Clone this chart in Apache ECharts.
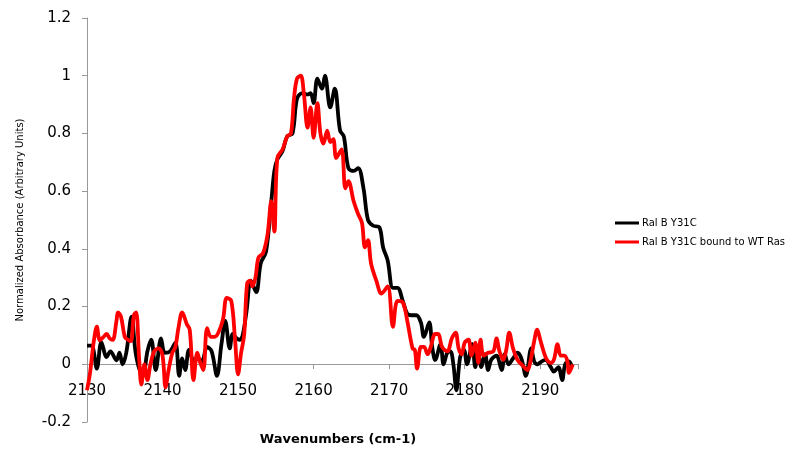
<!DOCTYPE html>
<html>
<head>
<meta charset="utf-8">
<script src="https://cdn.jsdelivr.net/npm/echarts@6/dist/echarts.min.js"></script>
<style>
html,body{margin:0;padding:0;background:#fff;}
#chart{width:800px;height:459px;}
</style>
</head>
<body>
<div id="chart"></div>
<script>
var seriesNames = ['Ral B Y31C', 'Ral B Y31C bound to WT Ras'];
var xTitle = 'Wavenumbers (cm-1)';
var yTitle = 'Normalized Absorbance (Arbitrary Units)';

var blackWn = [2130.0,2130.6,2131.3,2131.9,2132.6,2133.1,2133.9,2134.3,2134.7,2135.2,2135.9,2136.5,2137.4,2138.0,2138.5,2139.1,2139.8,2140.3,2141.0,2141.7,2142.2,2142.6,2143.0,2143.5,2144.1,2144.7,2145.2,2145.9,2146.5,2147.2,2147.8,2148.3,2148.9,2149.3,2149.8,2150.2,2150.6,2151.1,2151.7,2152.4,2153.0,2153.7,2154.4,2154.8,2155.2,2155.9,2156.5,2157.2,2157.8,2158.5,2159.2,2159.6,2160.0,2160.5,2161.1,2161.5,2162.2,2162.8,2163.5,2164.0,2164.6,2165.3,2165.9,2166.6,2167.2,2167.9,2168.7,2169.2,2169.8,2170.5,2171.1,2171.8,2172.4,2172.9,2173.6,2174.2,2174.6,2175.3,2175.7,2176.1,2176.8,2177.2,2177.7,2178.1,2178.5,2178.9,2179.4,2179.9,2180.3,2181.0,2181.4,2181.8,2182.2,2182.7,2183.1,2183.5,2184.2,2184.9,2185.3,2185.8,2186.4,2187.0,2187.5,2188.1,2188.8,2189.2,2189.6,2190.2,2190.7,2191.4,2191.8,2192.4,2192.9,2193.3,2193.8,2194.2];
var blackAbs = [0.065,0.065,-0.015,0.077,0.025,0.045,0.014,0.04,0.0,0.04,0.165,0.03,-0.04,0.045,0.085,-0.02,0.09,0.04,0.045,0.075,-0.04,0.02,-0.02,0.05,0.015,0.02,0.01,0.06,0.045,-0.04,0.07,0.15,0.055,0.105,0.09,0.085,0.10,0.18,0.29,0.25,0.35,0.39,0.565,0.67,0.71,0.74,0.79,0.80,0.92,0.94,0.935,0.94,0.905,0.99,0.955,1.0,0.89,0.955,0.81,0.79,0.68,0.67,0.68,0.61,0.50,0.48,0.475,0.405,0.36,0.265,0.265,0.22,0.175,0.17,0.17,0.145,0.095,0.145,0.06,0.015,0.07,0.0,0.04,0.045,0.0,-0.09,0.025,0.05,0.0,0.07,-0.01,0.04,-0.01,0.035,-0.02,0.015,0.03,-0.02,0.035,0.0,0.02,0.04,0.02,-0.04,0.055,0.01,0.0,0.01,0.015,-0.01,-0.025,-0.01,-0.055,0.0,0.01,-0.01];

var redWn = [2130.0,2130.4,2130.9,2131.3,2131.7,2132.2,2132.6,2133.0,2133.4,2133.9,2134.1,2134.5,2135.0,2135.4,2135.8,2136.2,2136.5,2136.9,2137.2,2137.6,2138.0,2138.4,2138.9,2139.5,2140.0,2140.4,2140.8,2141.3,2141.7,2142.1,2142.6,2143.2,2143.6,2144.1,2144.6,2145.0,2145.4,2145.9,2146.4,2146.9,2147.4,2148.0,2148.5,2149.1,2149.6,2150.0,2150.4,2150.8,2151.2,2151.6,2151.9,2152.3,2152.7,2153.3,2153.9,2154.4,2154.8,2155.2,2155.9,2156.5,2157.0,2157.4,2157.8,2158.3,2158.7,2159.2,2159.6,2160.0,2160.5,2160.9,2161.3,2161.8,2162.2,2162.6,2163.0,2163.7,2164.2,2164.6,2165.3,2165.9,2166.4,2166.8,2167.2,2167.6,2168.3,2169.0,2169.8,2170.5,2171.1,2171.8,2172.4,2173.1,2173.4,2173.7,2174.2,2174.6,2175.1,2175.5,2176.1,2176.5,2177.0,2177.7,2178.3,2178.8,2179.2,2179.6,2180.0,2180.5,2180.9,2181.4,2181.8,2182.1,2182.5,2183.1,2183.8,2184.2,2184.6,2185.1,2185.5,2185.9,2186.4,2187.0,2187.7,2188.3,2188.7,2189.2,2189.6,2190.0,2190.5,2190.9,2191.4,2191.8,2192.3,2192.7,2193.2,2193.6,2193.8,2194.3];
var redAbs = [-0.09,-0.03,0.08,0.13,0.083,0.095,0.105,0.09,0.085,0.15,0.18,0.165,0.095,0.085,0.08,0.17,0.18,0.02,-0.07,0.0,-0.055,0.0,0.045,0.055,0.03,-0.08,-0.02,0.04,0.06,0.125,0.18,0.14,0.12,-0.055,0.04,0.005,-0.02,0.125,0.095,0.095,0.11,0.155,0.23,0.22,0.085,-0.035,0.04,0.10,0.28,0.29,0.27,0.30,0.37,0.385,0.45,0.565,0.46,0.715,0.745,0.79,0.80,0.92,0.99,1.0,0.94,0.82,0.89,0.785,0.905,0.80,0.765,0.81,0.77,0.78,0.715,0.745,0.61,0.635,0.565,0.52,0.49,0.405,0.43,0.35,0.29,0.245,0.27,0.13,0.22,0.215,0.15,0.055,0.05,-0.015,0.06,0.06,0.035,0.06,0.105,0.105,0.06,0.045,0.09,0.11,0.055,0.035,0.075,0.085,0.03,0.075,0.005,0.085,0.03,0.04,0.045,0.09,0.045,0.015,0.05,0.11,0.055,0.015,-0.005,-0.02,0.01,0.08,0.12,0.085,0.04,0.015,0.005,0.015,0.07,0.03,0.03,0.01,-0.03,0.0];

function pairs(xs, ys){ return xs.map(function(x,i){ return [x, ys[i]]; }); }

var chart = echarts.init(document.getElementById('chart'), null, {renderer:'canvas'});
var font = 'DejaVu Sans';
chart.setOption({
  animation: false,
  backgroundColor: '#ffffff',
  title: {
    text: xTitle, left: 333, top: 428, textAlign: 'center',
    textStyle: {fontFamily: font, fontSize: 13, fontWeight: 'bold', color: '#000'}
  },
  grid: {left: 87, right: 222, top: 18, bottom: 37, containLabel: false, outerBoundsMode: 'none'},
  legend: {
    orient: 'vertical', left: 610, top: 213,
    itemWidth: 24, itemHeight: 3, itemGap: 9, icon: 'rect',
    textStyle: {fontFamily: font, fontSize: 10, color: '#000', padding: [0,0,0,-2]},
    data: seriesNames
  },
  xAxis: {
    type: 'value', min: 2130, max: 2195, interval: 10,
    position: 'bottom', offset: -58,
    axisLine: {onZero: false, lineStyle: {color: '#999', width: 1}},
    axisTick: {show: true, length: 5, lineStyle: {color: '#999'}},
    axisLabel: {fontFamily: font, fontSize: 15, color: '#000', margin: 20,
      formatter: function(v){ return (v % 10 === 0) ? String(v) : ''; }},
    splitLine: {show: false}
  },
  yAxis: {
    type: 'value', min: -0.2, max: 1.2, interval: 0.2,
    name: yTitle, nameLocation: 'middle', nameGap: 62,
    nameTextStyle: {fontFamily: font, fontSize: 10, color: '#000'},
    axisLine: {show: true, lineStyle: {color: '#999', width: 1}},
    axisTick: {show: true, length: 5, lineStyle: {color: '#999'}},
    axisLabel: {fontFamily: font, fontSize: 15, color: '#000', margin: 16,
      formatter: function(v){ return String(Math.round(v*10)/10); }},
    splitLine: {show: false}
  },
  series: [
    {name: seriesNames[0], type: 'line', data: pairs(blackWn, blackAbs), showSymbol: false, smooth: 0.35,
     color: '#000000', lineStyle: {color: '#000000', width: 3.8}, z: 2},
    {name: seriesNames[1], type: 'line', data: pairs(redWn, redAbs), showSymbol: false, smooth: 0.35,
     color: '#ff0000', lineStyle: {color: '#ff0000', width: 3.8}, z: 3}
  ]
});
</script>
</body>
</html>
